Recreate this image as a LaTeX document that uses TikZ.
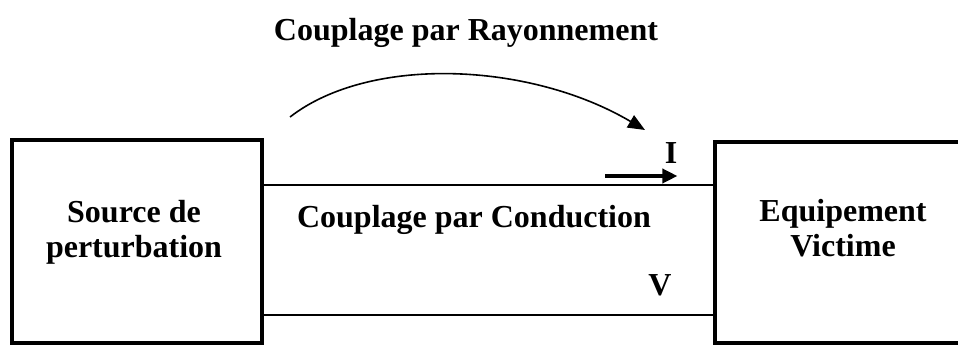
\documentclass[tikz,border=0pt]{standalone}
\usepackage{fontspec}
\setmainfont{Liberation Serif}
\usetikzlibrary{arrows.meta}

\begin{document}
\begin{tikzpicture}[x=1pt, y=-1pt, every node/.style={font=\bfseries\fontsize{32}{35}\selectfont, inner sep=0pt},
	blk/.style={draw, line width=4pt, minimum width=250pt, minimum height=203pt},
	wire/.style={line width=1.6pt},
	>={Triangle[length=17pt, width=14pt]}]
	\useasboundingbox (0,0) rectangle (958,347);
	\node[blk] (src) at (137,241.5) {};
	\node[blk, minimum width=260pt, minimum height=201pt] (vic) at (845,242.5) {};
	\node[align=center] (srctxt) at (134,232) {Source de\\perturbation};
	\node[align=center] (victxt) at (843,228) {Equipement\\Victime};
	\node (rad) at (466,33) {Couplage par Rayonnement};
	\node (cond) at (474,220) {Couplage par Conduction};
	\node (I) at (671,153) {I};
	\node (V) at (660,285) {V};
	\draw[wire] (src.east |- 0,185) -- (vic.west |- 0,185);
	\draw[wire] (src.east |- 0,315) -- (vic.west |- 0,315);
	\coordinate (c0) at (290,117);
	\coordinate (c1) at (645,130);
	\draw[wire, ->] (c0) .. controls (370,55) and (530,62) .. (c1);
	\draw[line width=3.5pt, -{Triangle[length=15pt, width=14pt]}] (605,176) -- (I.south east |- 0,176);
\end{tikzpicture}
\end{document}
